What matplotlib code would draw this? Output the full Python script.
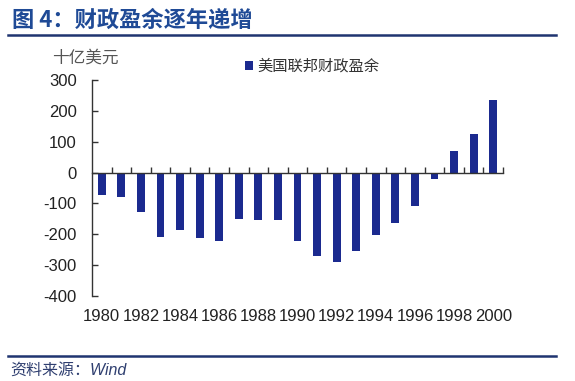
import matplotlib
matplotlib.use("Agg")
import matplotlib.pyplot as plt
from matplotlib.lines import Line2D

plt.rcParams['font.family'] = ['Liberation Sans', 'Noto Sans CJK SC', 'DejaVu Sans']
plt.rcParams['axes.unicode_minus'] = False

# US federal budget balance, billions of USD
years = list(range(1980, 2001))
surplus = [-74, -79, -128, -208, -185, -212, -221, -150, -155, -153, -221,
           -269, -290, -255, -203, -164, -107, -22, 69, 126, 236]
label_years = years[::2]
yticks = [-400, -300, -200, -100, 0, 100, 200, 300]

bar_color = '#1b2a8f'
navy = '#1f3470'
cjk = ['Noto Sans CJK SC', 'DejaVu Sans']

fig = plt.figure(figsize=(5.75, 3.81), dpi=100)
ax = fig.add_axes([92 / 575, 1 - 296 / 381, (503 - 92) / 575, (296 - 80) / 381])

ax.bar(years, surplus, width=0.4, color=bar_color, label='美国联邦财政盈余', zorder=2)

ax.set_xlim(years[0] - 0.5, years[-1] + 0.5)
ax.set_ylim(-400, 300)
ax.set_yticks(yticks)
ax.set_yticklabels([str(v) for v in yticks], fontsize=12, color='#222222')
ax.tick_params(axis='y', direction='in', length=4, width=1, color='#333333', pad=11)

# category boundaries as ticks on the zero line
ax.spines['bottom'].set_position(('data', 0))
ax.set_xticks([y + 0.5 for y in years])
ax.set_xticklabels([])
ax.tick_params(axis='x', direction='in', length=4, width=1, color='#333333')
for s in ['top', 'right']:
    ax.spines[s].set_visible(False)
for s in ['left', 'bottom']:
    ax.spines[s].set_color('#333333')
    ax.spines[s].set_linewidth(1)

for y in label_years:
    ax.text(y, -0.097, str(y), transform=ax.get_xaxis_transform(),
            ha='center', va='center', fontsize=12, color='#222222')

fig.legend(loc='center left', bbox_to_anchor=(245 / 575, 1 - 66.5 / 381),
           frameon=False, borderpad=0, borderaxespad=0,
           handlelength=0.5, handleheight=0.5, handletextpad=0.3,
           prop={'family': cjk, 'size': 11}, labelcolor='#333333')

fig.text(52 / 575, 1 - 58 / 381, '十亿美元', family=cjk, fontsize=12,
         color='#555555', ha='left', va='center')

fig.text(12 / 575, 1 - 20.5 / 381, '图 4：财政盈余逐年递增', family=cjk,
         fontsize=16, fontweight='bold', color='#1f4a96', ha='left', va='center')

fig.add_artist(Line2D([8 / 575, 556 / 575], [1 - 34.5 / 381] * 2,
                      transform=fig.transFigure, color=navy, lw=1.8))
fig.add_artist(Line2D([8 / 575, 556 / 575], [1 - 356 / 381] * 2,
                      transform=fig.transFigure, color=navy, lw=1.8))

fig.text(10 / 575, 1 - 370 / 381, '资料来源：Wind', family=['Liberation Sans', 'Noto Sans CJK SC'],
         style='italic', fontsize=11.5, color='#2f3f70', ha='left', va='center')

fig.savefig('out.png', dpi=100)
